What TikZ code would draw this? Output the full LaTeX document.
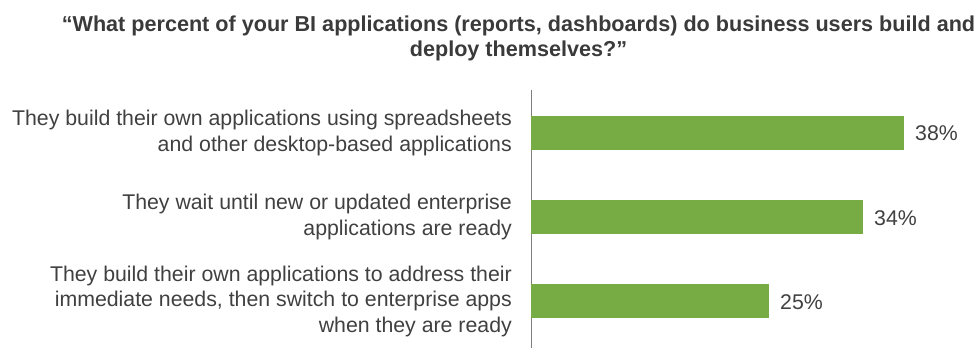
\documentclass[tikz,border=0pt]{standalone}
\usepackage{fontspec}
\setmainfont{Liberation Sans}
\definecolor{bargreen}{HTML}{77AB43}
\definecolor{txtgray}{HTML}{404040}
\definecolor{axisgray}{HTML}{7F7F7F}
\begin{document}
\begin{tikzpicture}[x=1pt,y=-1pt,
  lbl/.style={anchor=east,align=right,inner sep=0pt,text=txtgray,font=\fontsize{21.3}{25.5}\selectfont},
  pct/.style={anchor=base west,inner sep=0pt,text=txtgray,font=\fontsize{21.3}{25.5}\selectfont},
  bar/.style={fill=bargreen,draw=none},
  ttl/.style={anchor=base,align=center,inner sep=0pt,text=txtgray!90!black,font=\bfseries\fontsize{21.6}{25.7}\selectfont}]
\useasboundingbox (0,0) rectangle (976,348);
\node[ttl] (title) at (518.5,56.7) {“What percent of your BI applications (reports, dashboards) do business users build and\\deploy themselves?”};
\coordinate (axtop) at (531,90);
\coordinate (axbot) at (531,348);
\draw[axisgray,line width=1pt] (axtop) -- (axbot);
\path[bar] (531,115.5) rectangle (904,150) coordinate (b1);
\path[bar] (531,200) rectangle (863,234.4) coordinate (b2);
\path[bar] (531,284) rectangle (769,318) coordinate (b3);
\node[pct] (p1) at (915,140.8) {38\%};
\node[pct] (p2) at (874,225.3) {34\%};
\node[pct] (p3) at (780,309.1) {25\%};
\node[lbl] (l1) at (512,133) {They build their own applications using spreadsheets\\and other desktop-based applications};
\node[lbl] (l2) at (512,217) {They wait until new or updated enterprise\\applications are ready};
\node[lbl] (l3) at (512,301) {They build their own applications to address their\\immediate needs, then switch to enterprise apps\\when they are ready};
\end{tikzpicture}
\end{document}
